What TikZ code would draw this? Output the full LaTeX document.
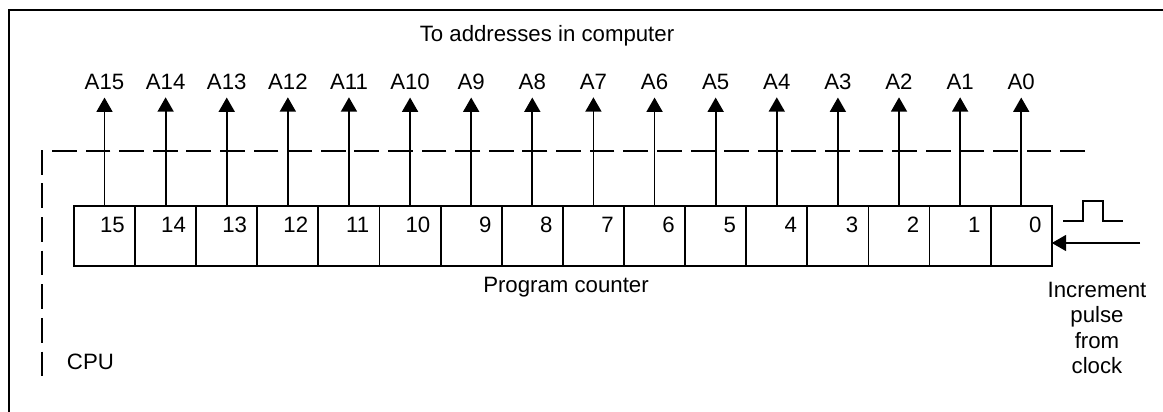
\documentclass[tikz,border=0pt]{standalone}
\usepackage{fontspec}
\setmainfont{Liberation Sans}
\usetikzlibrary{positioning,arrows.meta}
\tikzset{
    cell/.style={draw, line width=1.3pt, minimum width=1.5275cm, minimum height=1.5cm, inner sep=0pt, outer sep=0pt, label={[bitnum]north east:#1}},
    bitnum/.style={anchor=north east, inner sep=0pt, xshift=-0.25cm, yshift=-0.28cm},
    addr/.style={anchor=base, inner sep=5pt},
    edge/.style={draw, line width=1.3pt, -{Triangle[length=3.6mm, width=4mm]}},
    cpuline/.style={draw, line width=1pt, dash pattern=on 0.62cm off 0.22cm}
}

\begin{document}
\begin{tikzpicture}[x=0.025cm, y=-0.025cm, font=\fontsize{15.8}{18}\selectfont]
    \useasboundingbox (0,0) rectangle (1163,412);

    % frame and CPU border
    \draw[line width=1.5pt] (9,412) -- (9,10) -- (1163,10);
    \draw[cpuline] (1085,151) -- (42,151) -- (42,385);
    \node[anchor=base west] (cpu) at (62,369) {CPU};

    % Register cells
    \node[cell=15] (c15) at (104.5,236) {};
    \node[cell=14, right=0pt of c15] (c14) {};
    \node[cell=13, right=0pt of c14] (c13) {};
    \node[cell=12, right=0pt of c13] (c12) {};
    \node[cell=11, right=0pt of c12] (c11) {};
    \node[cell=10, right=0pt of c11] (c10) {};
    \node[cell=9, right=0pt of c10] (c9) {};
    \node[cell=8, right=0pt of c9] (c8) {};
    \node[cell=7, right=0pt of c8] (c7) {};
    \node[cell=6, right=0pt of c7] (c6) {};
    \node[cell=5, right=0pt of c6] (c5) {};
    \node[cell=4, right=0pt of c5] (c4) {};
    \node[cell=3, right=0pt of c4] (c3) {};
    \node[cell=2, right=0pt of c3] (c2) {};
    \node[cell=1, right=0pt of c2] (c1) {};
    \node[cell=0, right=0pt of c1] (c0) {};

    % Address lines
    \coordinate (top) at (0,90);
    \foreach \i in {0,...,15} {
        \node[addr] (a\i) at (c\i |- top) {A\i};
        \draw[edge] (c\i.north) -- (a\i.south);
    }

    % texts
    \node[anchor=base] (title) at (547,42) {To addresses in computer};
    \node[anchor=base] (pc) at (566,293) {Program counter};

    % clock input
    \coordinate (clk) at (1140,243);
    \draw[edge] (clk) -- (clk -| c0.east);
    \draw[line width=1pt] (1063,221) -- (1083,221) -- (1083,201) -- (1103,201) -- (1103,221) -- (1123,221);
    \node[align=center, anchor=north, inner sep=0pt] (inc) at (1097,282) {Increment\\pulse\\from\\clock};
\end{tikzpicture}
\end{document}
